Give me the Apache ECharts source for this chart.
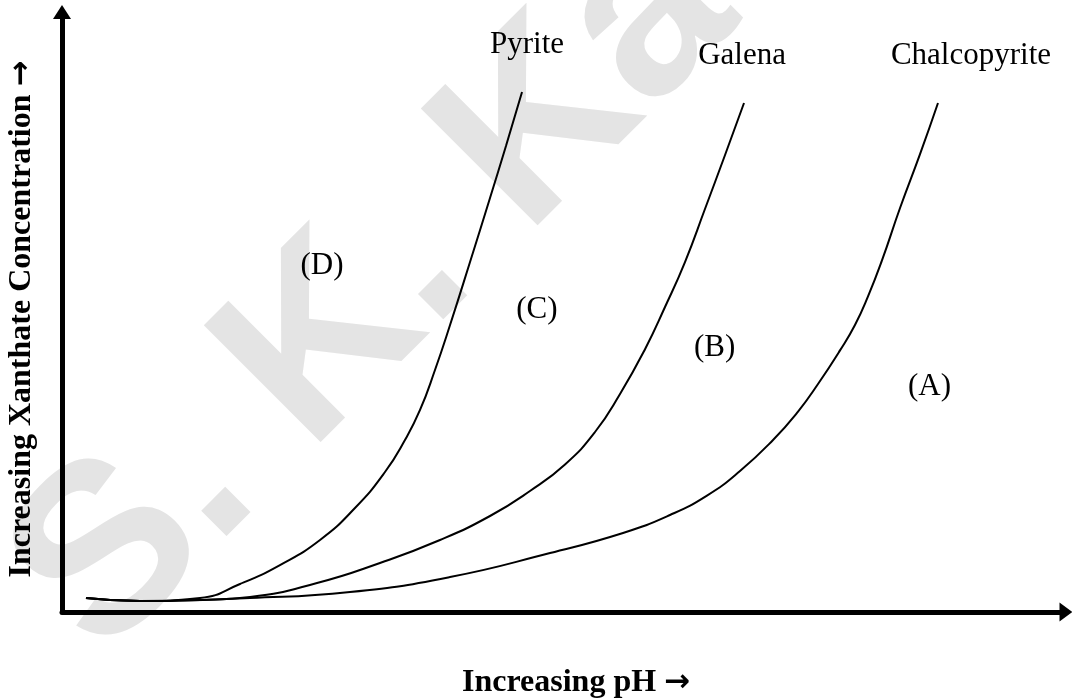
<!DOCTYPE html>
<html>
<head>
<meta charset="utf-8">
<script src="https://cdn.jsdelivr.net/npm/echarts@6/dist/echarts.min.js"></script>
<style>html,body{margin:0;padding:0;background:#fff;}#c{width:1072px;height:700px;}</style>
</head>
<body>
<div id="c"></div>
<script>
// Abstract units: x = increasing pH (0..100), y = increasing xanthate concentration (0..100)
const pyrite = [[2.39,2.33],[7.77,1.83],[13.75,2.33],[17.73,4.67],[21.71,7.83],[25.70,12.0],[29.18,17.33],[32.17,23.33],[34.16,28.67],[35.66,33.67],[37.15,40.33],[38.65,47.83],[40.64,58.33],[42.63,69.0],[44.22,77.67],[45.82,86.67]];
const galena = [[2.39,2.33],[7.77,1.83],[13.75,2.0],[18.73,2.5],[25.40,4.83],[31.67,8.17],[37.65,12.0],[42.63,16.0],[46.61,20.17],[50.10,24.6],[53.09,30.0],[55.58,36.33],[58.07,43.8],[60.06,50.83],[62.05,58.33],[64.04,67.17],[66.04,76.17],[67.93,84.83]];
const chalcopyrite = [[2.39,2.33],[7.77,1.83],[18.73,2.33],[28.69,3.33],[38.65,5.83],[48.61,9.83],[55.88,13.17],[60.56,16.17],[64.24,19.4],[67.53,23.5],[70.82,28.67],[73.31,33.4],[75.30,38.0],[77.49,43.6],[78.98,47.83],[80.28,52.6],[81.67,58.6],[83.47,67.33],[85.46,76.3],[87.25,84.83]];
const curveNames = ['Pyrite', 'Galena', 'Chalcopyrite'];
const regionLabels = ['(D)', '(C)', '(B)', '(A)'];
const regionPos = [[25.9,57.7],[47.3,50.3],[65.0,44.0],[86.4,37.5]];
const axisTitles = ['Increasing pH ', 'Increasing Xanthate Concentration '];
const arrowGlyph = '\u2192';
const watermarkText = 'S. K. Kawatra';

const chart = echarts.init(document.getElementById('c'), null, {renderer: 'canvas'});
const lineStyle = {color: '#000', width: 2};
const serif = '"Liberation Serif", "Times New Roman", serif';
function curve(name, data) {
  return {name, type: 'line', data, showSymbol: false, smooth: 0.5,
    lineStyle, silent: true, animation: false, z: 5};
}
const axisCommon = {
  type: 'value', min: 0, max: 100,
  axisTick: {show: false}, axisLabel: {show: false}, splitLine: {show: false},
  axisLine: {show: true, onZero: false, symbol: ['none', 'triangle'],
    lineStyle: {color: '#000', width: 5}}
};
const option = {
  backgroundColor: '#fff',
  animation: false,
  grid: {left: 62, right: 6, top: 12, bottom: 88, containLabel: false, z: 2},
  xAxis: Object.assign({}, axisCommon, {axisLine: Object.assign({}, axisCommon.axisLine, {symbolSize: [19, 13]})}),
  yAxis: Object.assign({}, axisCommon, {axisLine: Object.assign({}, axisCommon.axisLine, {symbolSize: [18, 14]})}),
  series: [curve(curveNames[0], pyrite), curve(curveNames[1], galena), curve(curveNames[2], chalcopyrite)]
};
chart.setOption(option);

function px(p) { return chart.convertToPixel({gridIndex: 0}, p); }
const texts = [];
// faint watermark behind the chart
texts.push({type: 'text', x: 55, y: 614, rotation: Math.PI / 4, z: -10, silent: true,
  style: {text: watermarkText, font: 'bold 240px "Liberation Sans", Arial, sans-serif', fill: '#e4e4e4',
    align: 'left', verticalAlign: 'middle'}});
const nameAnchors = [pyrite, galena, chalcopyrite].map(d => d[d.length - 1]);
const nameOffsets = [[5, -47], [-2, -47], [33, -47]];
nameAnchors.forEach((a, i) => {
  const p = px(a);
  texts.push({type: 'text', x: p[0] + nameOffsets[i][0], y: p[1] + nameOffsets[i][1], z: 20,
    style: {text: curveNames[i], font: '31px ' + serif, fill: '#000', align: 'center', verticalAlign: 'middle'}});
});
regionLabels.forEach((t, i) => {
  const p = px(regionPos[i]);
  texts.push({type: 'text', x: p[0], y: p[1], z: 20,
    style: {text: t, font: '31px ' + serif, fill: '#000', align: 'center', verticalAlign: 'middle'}});
});
const rich = {
  t: {font: 'bold 32px ' + serif, fill: '#000'},
  a: {font: 'bold 31px "DejaVu Sans", sans-serif', fill: '#000'}
};
texts.push({type: 'text', x: 576, y: 683, z: 20,
  style: {text: '{t|' + axisTitles[0] + '}{a|' + arrowGlyph + '}', rich, align: 'center', verticalAlign: 'middle'}});
texts.push({type: 'text', x: 22, y: 319, rotation: Math.PI / 2, z: 20,
  style: {text: '{t|' + axisTitles[1] + '}{a|' + arrowGlyph + '}', rich, align: 'center', verticalAlign: 'middle'}});
chart.setOption({graphic: texts});
</script>
</body>
</html>
